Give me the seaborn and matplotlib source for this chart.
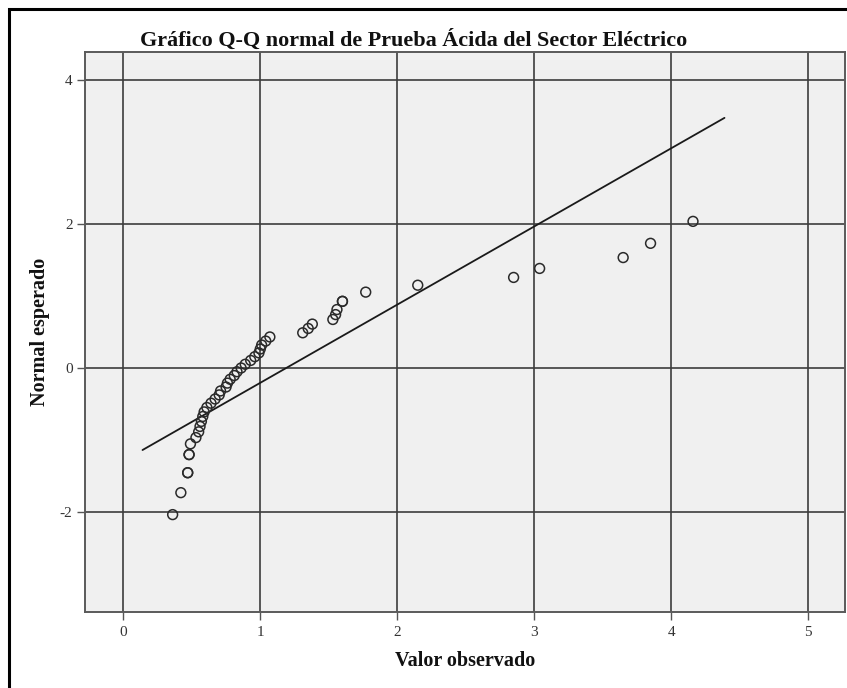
import numpy as np
import pandas as pd
import matplotlib
matplotlib.use("Agg")
import matplotlib.pyplot as plt
from matplotlib.patches import Rectangle
import seaborn as sns

# Observed acid-test ratios (sorted) and their expected normal scores
observed = [0.36, 0.42, 0.47, 0.47, 0.48, 0.48, 0.49, 0.53, 0.55, 0.56,
            0.57, 0.58, 0.59, 0.61, 0.64, 0.67, 0.70, 0.71, 0.75, 0.76,
            0.78, 0.81, 0.83, 0.86, 0.89, 0.93, 0.96, 0.99, 1.00, 1.01,
            1.04, 1.07, 1.31, 1.35, 1.38, 1.53, 1.55, 1.56, 1.60, 1.60,
            1.77, 2.15, 2.85, 3.04, 3.65, 3.85, 4.16]
expected = [-2.037, -1.732, -1.455, -1.455, -1.203, -1.203, -1.054, -0.967, -0.887, -0.812,
            -0.742, -0.674, -0.610, -0.549, -0.489, -0.431, -0.374, -0.319, -0.264, -0.210,
            -0.157, -0.105, -0.052, 0.000, 0.052, 0.105, 0.157, 0.210, 0.264, 0.319,
            0.374, 0.431, 0.489, 0.549, 0.610, 0.674, 0.742, 0.812, 0.926, 0.926,
            1.054, 1.150, 1.258, 1.383, 1.534, 1.732, 2.037]

# Horizontal extent of the reference line
line_x = [0.14, 4.39]

x_ticks = [0, 1, 2, 3, 4, 5]
y_ticks = [-2, 0, 2, 4]

title = "Gráfico Q-Q normal de Prueba Ácida del Sector Eléctrico"
x_label = "Valor observado"
y_label = "Normal esperado"

points = pd.DataFrame({"obs": observed, "exp": expected})
mean = np.mean(observed)
sd = np.std(observed, ddof=1)
ref = pd.DataFrame({"x": line_x})
ref["y"] = (ref["x"] - mean) / sd

sns.set_theme(style="white")
plt.rcParams["font.family"] = ["Liberation Serif", "DejaVu Serif"]

W, H = 847, 688
fig = plt.figure(figsize=(W / 100, H / 100), dpi=100)
fig.patch.set_facecolor("white")

left, right, top, bottom = 85, 845, 52, 612
ax = fig.add_axes([left / W, 1 - bottom / H, (right - left) / W, (bottom - top) / H])
ax.set_facecolor("#f0f0f0")

ax.set_xlim(-0.28, 5.27)
ax.set_ylim(-3.39, 4.39)

grid_col = "#3c3c3c"
for xv in x_ticks:
    ax.axvline(xv, color=grid_col, lw=1.2, zorder=1)
for yv in y_ticks:
    ax.axhline(yv, color=grid_col, lw=1.2, zorder=1)

sns.lineplot(data=ref, x="x", y="y", ax=ax, color="#1a1a1a", lw=1.3, zorder=3)
sns.scatterplot(data=points, x="obs", y="exp", ax=ax, marker="o", s=50,
                facecolor="none", edgecolor="#2a2a2a", linewidth=1.1, zorder=4)

ax.set_xticks(x_ticks)
ax.set_yticks(y_ticks)
ax.set_xticklabels([str(v) for v in x_ticks])
ax.set_yticklabels([str(v) for v in y_ticks])
ax.tick_params(axis="both", direction="out", length=6, width=1.0, color="#555555",
               labelsize=11, labelcolor="#333333", pad=3)
ax.tick_params(axis="x", bottom=True, top=False, pad=4)
ax.tick_params(axis="y", left=True, right=False)

for s in ax.spines.values():
    s.set_color("#5a5a5a")
    s.set_linewidth(1.4)

ax.set_xlabel(x_label, fontsize=14.5, fontweight="bold", color="#111111")
ax.set_ylabel(y_label, fontsize=14.5, fontweight="bold", color="#111111")
ax.xaxis.set_label_coords(0.5, -(661 - bottom) / (bottom - top))
ax.yaxis.set_label_coords(-(left - 40) / (right - left), 0.5)
ax.xaxis.label.set_va("center")
ax.yaxis.label.set_va("center")

fig.text(414 / W, 1 - 40 / H, title, ha="center", va="center",
         fontsize=15.9, fontweight="bold", color="#111111")

# Outer chart frame (left and top edges visible)
fig.add_artist(Rectangle((9 / W, -0.5), 2.0, (1 - 9 / H) + 0.5, transform=fig.transFigure,
                         fill=False, edgecolor="black", lw=2.2, zorder=10))

fig.savefig("out.png", dpi=100, facecolor="white")
